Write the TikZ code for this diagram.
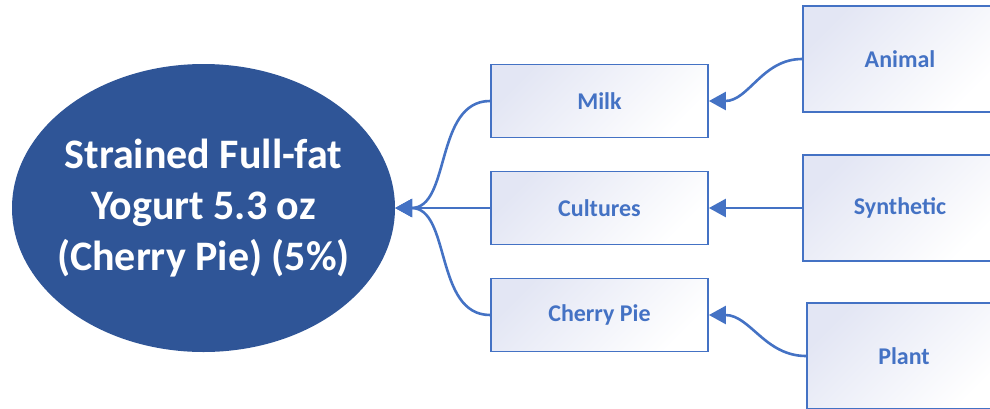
\documentclass[tikz,border=0pt]{standalone}
\usepackage{fontspec}
\setmainfont{Carlito}
\usetikzlibrary{shapes.geometric,arrows.meta}
\definecolor{ovalBlue}{HTML}{2F5597}
\definecolor{lineBlue}{HTML}{4472C4}
\definecolor{boxShade}{HTML}{E3E6F4}
\tikzset{oval/.style={ellipse, fill=ovalBlue, text=white, align=center,
        minimum width=383pt, minimum height=288pt, inner sep=-12pt,
        font=\bfseries\fontsize{42}{51}\selectfont},
    partBox/.style={draw=lineBlue, line width=1.8pt, top color=boxShade,
        bottom color=white, shading angle=45, text=lineBlue,
        font=\bfseries\fontsize{24}{29}\selectfont,
        minimum width=217pt, minimum height=73pt},
    sourceBox/.style={partBox, minimum width=194pt, minimum height=106pt},
    feed/.style={draw=lineBlue, line width=2.6pt,
        -{Triangle[length=17pt,width=18pt]}},
    }

\begin{document}
\begin{tikzpicture}[x=1pt,y=-1pt]
	\clip (0,0) rectangle (990,408);
	\node[oval] (yogurtNode) at (203.5,208) {Strained Full-fat\\Yogurt 5.3 oz\\(Cherry Pie) (5\%)};
	% ingredients
	\node[partBox] (milkBox) at (599.5,101) {Milk};
	\node[partBox] (culturesBox) at (599.5,208) {Cultures};
	\node[partBox] (cherryBox) at (599.5,315) {Cherry Pie};
	% sources
	\node[sourceBox] (animalBox) at (900,59) {Animal};
	\node[sourceBox] (syntheticBox) at (900,208) {Synthetic};
	\node[sourceBox] (plantBox) at (904,356) {Plant};
	\draw[feed] (milkBox.west) to[out=180,in=0] (yogurtNode.east);
	\draw[feed] (culturesBox.west) -- (yogurtNode.east);
	\draw[feed] (cherryBox.west) to[out=180,in=0] (yogurtNode.east);
	\draw[feed] (animalBox.west) to[out=180,in=0] (milkBox.east);
	\draw[feed] (syntheticBox.west) -- (culturesBox.east);
	\draw[feed] (plantBox.west) to[out=180,in=0] (cherryBox.east);
\end{tikzpicture}
\end{document}
